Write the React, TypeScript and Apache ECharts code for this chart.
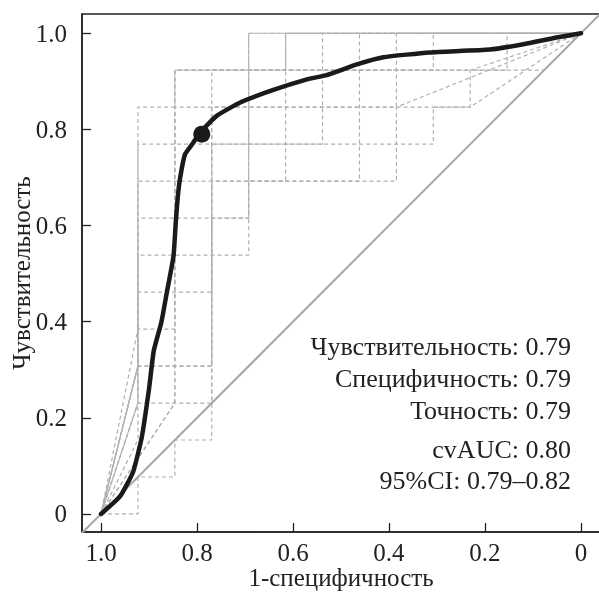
import React, { useEffect, useRef } from "react";
import * as echarts from "echarts";

// Tick values (shared by both axes)
const TICKS = [0, 0.2, 0.4, 0.6, 0.8, 1.0];

// Mean cross-validated ROC curve (x = 1-specificity axis value, y = sensitivity)
const MEAN_X = [1.0, 0.96, 0.933, 0.915, 0.9, 0.89, 0.874, 0.863, 0.849, 0.844, 0.84, 0.835, 0.825, 0.808, 0.794, 0.759, 0.71, 0.644, 0.571, 0.53, 0.467, 0.412, 0.315, 0.19, 0.12, 0.051, 0.0];
const MEAN_Y = [0.0, 0.037, 0.088, 0.16, 0.26, 0.34, 0.4, 0.46, 0.536, 0.61, 0.66, 0.7, 0.748, 0.772, 0.793, 0.828, 0.856, 0.881, 0.904, 0.913, 0.935, 0.95, 0.96, 0.966, 0.977, 0.991, 1.0];

// Operating point
const CUTOFF = [0.79, 0.79];

// Per-fold ROC step curves, as [false-positive count, true-positive count] out of N
const N = 13;
const FOLD_1 = [[0, 0], [1, 0], [1, 1], [2, 1], [2, 2], [3, 2], [3, 9], [5, 9], [5, 13], [13, 13]];
const FOLD_2 = [[0, 0], [1, 3], [1, 11], [2, 11], [2, 12], [10, 12], [13, 13]];
const FOLD_3 = [[0, 0], [1, 4], [1, 9], [8, 9], [8, 11], [13, 13]];
const FOLD_4 = [[0, 0], [2, 3], [2, 11], [8, 11], [8, 13], [13, 13]];
const FOLD_5 = [[0, 0], [1, 4], [3, 4], [3, 12], [9, 12], [9, 13], [13, 13]];
const FOLD_6 = [[0, 0], [1, 3], [1, 10], [9, 10], [9, 11], [10, 11], [10, 12], [11, 12], [11, 13], [13, 13]];
const FOLD_7 = [[0, 0], [1, 2], [1, 3], [3, 3], [3, 10], [6, 10], [6, 13], [13, 13]];
const FOLD_8 = [[0, 0], [1, 5], [2, 5], [2, 12], [5, 12], [5, 13], [13, 13]];
const FOLD_9 = [[0, 0], [1, 3], [1, 6], [3, 6], [3, 8], [4, 8], [4, 9], [7, 9], [7, 13], [13, 13]];
const FOLD_10 = [[0, 0], [2, 3], [2, 12], [12, 12], [13, 13]];
const FOLD_11 = [[0, 0], [1, 4], [3, 4], [3, 11], [10, 11], [13, 13]];
const FOLD_12 = [[0, 0], [1, 4], [1, 8], [4, 8], [4, 13], [13, 13]];
const FOLD_13 = [[0, 0], [1, 4], [1, 7], [4, 7], [4, 13], [13, 13]];
const FOLDS = [FOLD_1, FOLD_2, FOLD_3, FOLD_4, FOLD_5, FOLD_6, FOLD_7, FOLD_8, FOLD_9, FOLD_10, FOLD_11, FOLD_12, FOLD_13];

// Reference diagonal
const DIAG_X = [1.2, -0.2];
const DIAG_Y = [-0.2, 1.2];

// Annotation lines
const NOTES = [
  "Чувствительность: 0.79",
  "Специфичность: 0.79",
  "Точность: 0.79",
  "cvAUC: 0.80",
  "95%CI: 0.79–0.82",
];

const FONT = "'Liberation Serif', 'Times New Roman', serif";

export default function App() {
  const ref = useRef<HTMLDivElement>(null);
  useEffect(() => {
    if (!ref.current) return;
    const chart = echarts.init(ref.current, null, { renderer: "svg" });
    const fmt = (v: number) => (v === 0 ? "0" : v.toFixed(1));
    const noteY = [347, 379, 411, 450, 481];

    const foldSeries = FOLDS.map((f, i) => ({
      type: "line",
      data: f.map(([fp, tp]) => [1 - fp / N, tp / N]),
      symbol: "none",
      silent: true,
      z: 1,
      lineStyle: { color: "#b0b0b0", width: 1.2, type: [4, 3], dashOffset: (i * 2.3) % 7 },
    }));

    chart.setOption({
      animation: false,
      grid: {
        left: 82,
        top: 14,
        right: -1,
        bottom: 60,
        show: true,
        borderColor: "#222",
        borderWidth: 1.5,
        outerBoundsMode: "none",
      },
      xAxis: {
        type: "value",
        inverse: true,
        min: -0.0396,
        max: 1.0396,
        name: "1-специфичность",
        nameLocation: "middle",
        nameMoveOverlap: false,
        nameGap: 33,
        nameTextStyle: { fontFamily: FONT, fontSize: 25, color: "#222", lineHeight: 25 },
        axisLine: { onZero: false, lineStyle: { color: "#222", width: 1.5 } },
        axisTick: { inside: true, length: 9, customValues: TICKS, lineStyle: { color: "#222", width: 1.3 } },
        axisLabel: { customValues: TICKS, formatter: fmt, fontFamily: FONT, fontSize: 25, lineHeight: 22, color: "#222", margin: 9 },
        splitLine: { show: false },
      },
      yAxis: {
        type: "value",
        min: -0.0375,
        max: 1.04,
        name: "Чувствительность",
        nameLocation: "middle",
        nameMoveOverlap: false,
        nameGap: 48,
        nameTextStyle: { fontFamily: FONT, fontSize: 25, color: "#222", lineHeight: 25 },
        axisLine: { onZero: false, lineStyle: { color: "#222", width: 1.5 } },
        axisTick: { inside: true, length: 9, customValues: TICKS, lineStyle: { color: "#222", width: 1.3 } },
        axisLabel: { customValues: TICKS, formatter: fmt, fontFamily: FONT, fontSize: 25, color: "#222", margin: 15 },
        splitLine: { show: false },
      },
      series: [
        ...foldSeries,
        {
          type: "line",
          data: DIAG_X.map((x, i) => [x, DIAG_Y[i]]),
          symbol: "none",
          silent: true,
          clip: true,
          z: 2,
          lineStyle: { color: "#a6a6a6", width: 2 },
        },
        {
          type: "line",
          data: MEAN_X.map((x, i) => [x, MEAN_Y[i]]),
          symbol: "none",
          smooth: 0.15,
          silent: true,
          z: 3,
          lineStyle: { color: "#1a1a1a", width: 4.5, cap: "round", join: "round" },
        },
        {
          type: "scatter",
          data: [CUTOFF],
          symbolSize: 17,
          silent: true,
          z: 4,
          itemStyle: { color: "#1a1a1a", opacity: 1 },
        },
      ],
      graphic: NOTES.map((t, i) => ({
        type: "text",
        right: 28,
        top: noteY[i] - 14,
        style: { text: t, fontFamily: FONT, fontSize: 26, fill: "#222", textAlign: "right" },
        z: 10,
      })),
    });
    return () => chart.dispose();
  }, []);
  return <div ref={ref} style={{ position: "fixed", left: 0, top: 0, width: 599, height: 592 }} />;
}
